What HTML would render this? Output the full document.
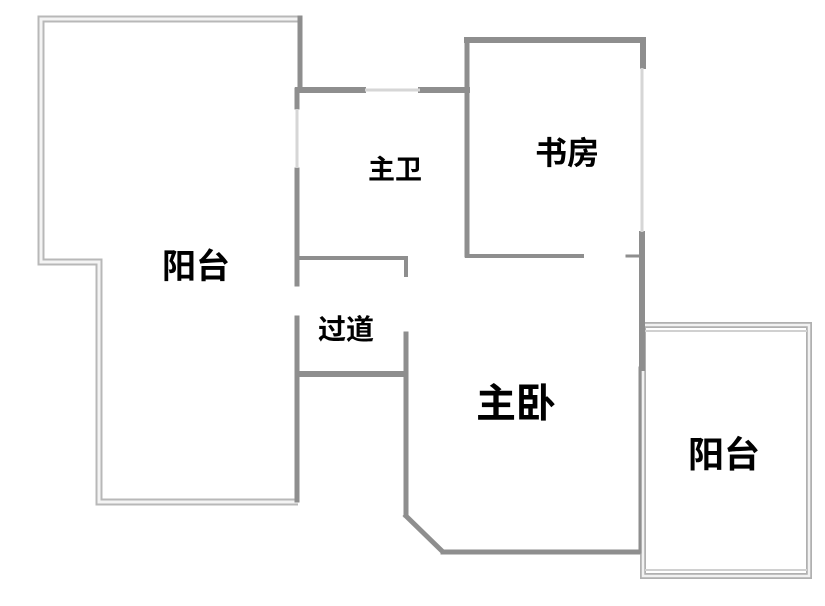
<!DOCTYPE html>
<html><head><meta charset="utf-8"><style>
html,body{margin:0;padding:0;background:#fff;}
svg{display:block;}
text{font-family:"Liberation Sans","Noto Sans CJK SC",sans-serif;fill:#000;font-weight:bold;}
</style></head><body>
<svg width="825" height="606" viewBox="0 0 825 606" xmlns="http://www.w3.org/2000/svg">
<rect width="825" height="606" fill="#fff"/>
<g fill="none" stroke-linejoin="miter">
  <path d="M298,19 L41,19 L41,262 L99,262 L99,502 L298,502" stroke="#b8b8b8" stroke-width="7"/>
  <path d="M298,19 L41,19 L41,262 L99,262 L99,502 L298,502" stroke="#f4f4f4" stroke-width="3"/>
  <rect x="643" y="325" width="166" height="251" stroke="#b0b0b0" stroke-width="6"/>
  <rect x="643" y="325" width="166" height="251" stroke="#f2f2f2" stroke-width="2.5"/>
  <line x1="645" y1="331" x2="807" y2="331" stroke="#d0d0d0" stroke-width="2"/>
  <line x1="645" y1="570" x2="807" y2="570" stroke="#d0d0d0" stroke-width="2"/>
</g>
<g stroke="#8e8e8e" stroke-width="5" fill="none" stroke-linecap="square">
  <line x1="300" y1="18" x2="300" y2="86"/>
  <line x1="298" y1="90" x2="363" y2="90" stroke-width="6"/>
  <line x1="421" y1="90" x2="467" y2="90" stroke-width="6"/>
  <line x1="297" y1="90" x2="297" y2="107"/>
  <line x1="297" y1="170" x2="297" y2="284"/>
  <line x1="297" y1="318" x2="297" y2="500"/>
  <line x1="298" y1="258" x2="405" y2="258" stroke-width="4"/>
  <line x1="406" y1="258" x2="406" y2="275" stroke-width="4"/>
  <line x1="298" y1="374" x2="404" y2="374" stroke-width="6"/>
  <line x1="406" y1="334" x2="406" y2="515"/>
  <line x1="406" y1="516" x2="442" y2="551"/>
  <line x1="443" y1="552" x2="638" y2="552" stroke-width="5"/>
  <line x1="467" y1="40" x2="643" y2="40" stroke-width="6"/>
  <line x1="467" y1="40" x2="467" y2="255"/>
  <line x1="467" y1="256" x2="582" y2="256" stroke-width="4"/>
  <line x1="627" y1="256" x2="638" y2="256" stroke-width="3"/>
  <line x1="643" y1="40" x2="643" y2="66" stroke-width="6"/>
  <line x1="642" y1="234" x2="642" y2="368" stroke-width="6"/>
  <line x1="640" y1="368" x2="640" y2="552" stroke-width="3"/>
</g>
<g stroke="#d6d6d6" stroke-width="3">
  <line x1="642" y1="68" x2="642" y2="232"/>
  <line x1="365" y1="90" x2="420" y2="90"/>
  <line x1="297" y1="109" x2="297" y2="168"/>
</g>
<text x="196" y="278" font-size="34" text-anchor="middle">阳台</text>
<text x="395" y="179" font-size="27" text-anchor="middle">主卫</text>
<text x="567" y="164" font-size="32" text-anchor="middle">书房</text>
<text x="346" y="339" font-size="28" text-anchor="middle">过道</text>
<text x="516" y="417" font-size="40" text-anchor="middle">主卧</text>
<text x="724" y="467" font-size="36" text-anchor="middle">阳台</text>
</svg>
</body></html>
